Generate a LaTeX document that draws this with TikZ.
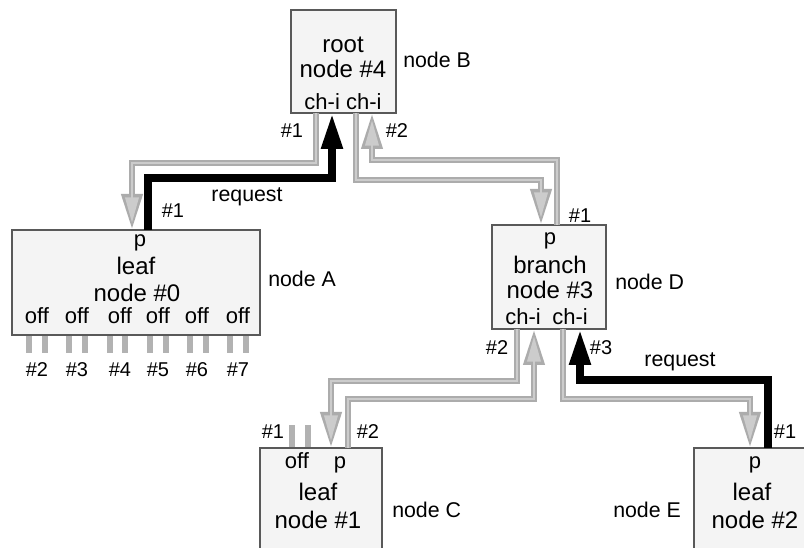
\documentclass[tikz,border=0pt]{standalone}
\usepackage{fontspec}
\setmainfont{Liberation Sans}
\usetikzlibrary{arrows.meta,fit}
\begin{document}
\begin{tikzpicture}[x=0.75pt,y=-0.75pt,
 box/.style={draw=black!65, line width=1.3pt, fill=gray!9, inner sep=0pt},
 gline/.style={draw=gray!65, line width=5.2pt, -{Triangle[length=27pt,width=15pt]},
   postaction={draw=gray!40, line width=2pt, -{Triangle[length=19pt,width=10pt]}, shorten >=5.5pt}},
 bline/.style={draw=black, line width=6pt, -{Triangle[length=27pt,width=15pt]}},
 stub/.style={draw=gray!60, line width=4pt},
 big/.style={font=\fontsize{18}{20}\selectfont, anchor=base, inner sep=0pt},
 port/.style={font=\fontsize{16.5}{18}\selectfont, anchor=base, inner sep=0pt},
 side/.style={font=\fontsize{16}{18}\selectfont, anchor=base west, inner sep=0pt},
 num/.style={font=\fontsize{15}{17}\selectfont, anchor=base, inner sep=0pt},
]
\fill[white] (0,0) rectangle (804,548);
\useasboundingbox (0,0) rectangle (804,548);
\clip (0,0) rectangle (804,548);

% boxes
\node[box, fit={(291,10) (396,113)}] (B) {};
\node[box, fit={(12,230) (260,335)}] (A) {};
\node[box, fit={(492,225) (606,329)}] (D) {};
\node[box, fit={(260,448) (382,570)}] (C) {};
\node[box, fit={(694,448) (820,570)}] (E) {};

% box texts
\node[big] (Bt1) at (343,53) {root};
\node[big] (Bt2) at (343,78) {node \#4};
\node[port] (Bt3) at (343,110) {ch-i ch-i};
\node[side] (Bl) at (403,68) {node B};

\node[port] (At0) at (140,247) {p};
\node[big] (At1) at (136,275) {leaf};
\node[big] (At2) at (137,302) {node \#0};
\foreach \x [count=\i] in {37,77,120,158,197,238}
  \node[port] (Aoff\i) at (\x,324) {off};
\node[side] (Al) at (268,287) {node A};

\node[port] (Dt0) at (550,245) {p};
\node[big] (Dt1) at (550,274) {branch};
\node[big] (Dt2) at (550,299) {node \#3};
\node[port] (Dt3) at (523,325) {ch-i};
\node[port] (Dt4) at (570,325) {ch-i};
\node[side] (Dl) at (615,290) {node D};

\node[port] (Ct0) at (297,469) {off};
\node[port] (Ct1) at (340,469) {p};
\node[big] (Ct2) at (318,501) {leaf};
\node[big] (Ct3) at (318,529) {node \#1};
\node[side] (Cl) at (392,518) {node C};

\node[port] (Et0) at (755,469) {p};
\node[big] (Et1) at (752,501) {leaf};
\node[big] (Et2) at (755,529) {node \#2};
\node[side] (El) at (613,518) {node E};

% ports
\coordinate (Bo1) at (316,113);
\coordinate (Bi1) at (332,113);
\coordinate (Bo2) at (356,113);
\coordinate (Bi2) at (372,113);
\coordinate (Ai) at (132,230);
\coordinate (Ao) at (148,230);
\coordinate (Di) at (541,225);
\coordinate (Do) at (557,225);
\coordinate (Do2) at (517,329);
\coordinate (Di2) at (534,329);
\coordinate (Do3) at (563,329);
\coordinate (Di3) at (580,329);
\coordinate (Ci) at (331,448);
\coordinate (Co) at (348,448);
\coordinate (Ei) at (750,448);
\coordinate (Eo) at (768,448);

% connectors
\draw[gline] (Bo1) -- ++(0,50) -| (Ai);
\draw[bline] (Ao) -- ++(0,-52) -| (Bi1);
\draw[gline] (Bo2) -- ++(0,67) -| (Di);
\draw[gline] (Do) -- ++(0,-65) -| (Bi2);
\draw[gline] (Do2) -- ++(0,52) -| (Ci);
\draw[gline] (Co) -- ++(0,-49) -| (Di2);
\draw[gline] (Do3) -- ++(0,70) -| (Ei);
\draw[bline] (Eo) -- ++(0,-68) -| (Di3);

% stubs below A
\foreach \x [count=\i] in {29,45,69,85,110,125,150,166,190,206,230,246} {
  \coordinate (s\i) at (\x,353);
  \draw[stub] (A.south -| s\i) -- (s\i);
}
% stubs above C
\coordinate (c1) at (292,425);
\coordinate (c2) at (308,425);
\draw[stub] (C.north -| c1) -- (c1);
\draw[stub] (C.north -| c2) -- (c2);

% labels
\node[num] (n1) at (292,138) {\#1};
\node[num] (n2) at (397,138) {\#2};
\node[num] (n3) at (173,218) {\#1};
\node[side, anchor=base] (r1) at (247,202) {request};
\node[num] (n4) at (580,223) {\#1};
\node[num] (n5) at (497,355) {\#2};
\node[num] (n6) at (601,355) {\#3};
\node[side, anchor=base] (r2) at (680,367) {request};
\node[num] (n7) at (273,439) {\#1};
\node[num] (n8) at (368,439) {\#2};
\node[num] (n9) at (785,439) {\#1};
\foreach \x/\t [count=\i] in {37/2,77/3,120/4,158/5,197/6,238/7}
  \node[num] (h\i) at (\x,377) {\#\t};
\end{tikzpicture}
\end{document}
